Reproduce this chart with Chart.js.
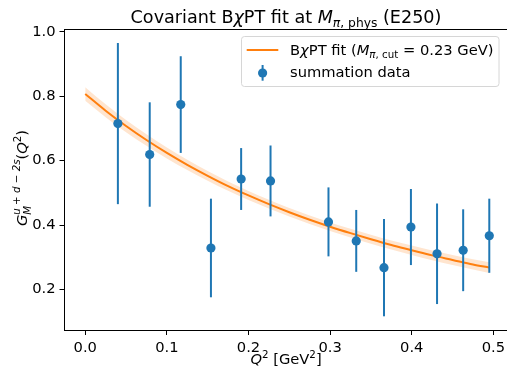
<!DOCTYPE html>
<html><head><meta charset="utf-8">
<script src="https://cdn.jsdelivr.net/npm/chart.js@4/dist/chart.umd.min.js"></script>
<style>html,body{margin:0;padding:0;background:#fff}#wrap{width:507px;height:374px;position:relative}</style>
</head><body><div id="wrap"><canvas id="c" width="507" height="374"></canvas></div>
<script>
// ---- data ----
const q2Data = [0.040, 0.079, 0.117, 0.154, 0.191, 0.227, 0.298, 0.332, 0.366, 0.399, 0.431, 0.463, 0.495];
const gData  = [0.715, 0.619, 0.774, 0.329, 0.543, 0.537, 0.410, 0.351, 0.268, 0.394, 0.311, 0.322, 0.367];
const gErr   = [0.250, 0.162, 0.150, 0.153, 0.096, 0.110, 0.107, 0.096, 0.151, 0.118, 0.156, 0.127, 0.115];
const fitQ2  = [0, 0.025, 0.05, 0.075, 0.1, 0.125, 0.15, 0.175, 0.2, 0.225, 0.25, 0.275, 0.3, 0.325, 0.35, 0.375, 0.4, 0.425, 0.45, 0.475, 0.495];
const fitVal = [0.807, 0.755, 0.7075, 0.664, 0.624, 0.587, 0.553, 0.521, 0.492, 0.465, 0.440, 0.4165, 0.395, 0.375, 0.356, 0.338, 0.322, 0.306, 0.292, 0.278, 0.268];
const fitErr = [0.021, 0.020, 0.019, 0.018, 0.017, 0.016, 0.015, 0.0145, 0.014, 0.0135, 0.013, 0.013, 0.013, 0.0133, 0.0137, 0.014, 0.0145, 0.015, 0.0155, 0.016, 0.0165];
const xTicks = [0.0, 0.1, 0.2, 0.3, 0.4, 0.5];
const yTicks = [0.2, 0.4, 0.6, 0.8, 1.0];

const BLUE = '#1f77b4', ORANGE = '#ff7f0e', BAND = 'rgba(255,127,14,0.2)';
const FONT = '"DejaVu Sans"';
const FS = 14.7, TFS = 17.6;

function layoutRich(ctx, segs, base) {
  let x = 0; const items = []; let holdX = null, holdW = 0;
  for (const s of segs) {
    const size = base * (s.s || 1);
    const font = (s.it ? 'italic ' : '') + size + 'px ' + FONT;
    ctx.font = font;
    const w = ctx.measureText(s.t).width;
    if (s.hold) { items.push({...s, font, x, w}); holdX = x; holdW = w; continue; }
    if (holdX !== null) { items.push({...s, font, x: holdX, w}); x = holdX + Math.max(holdW, w); holdX = null; continue; }
    items.push({...s, font, x, w}); x += w;
  }
  return {items, width: x};
}
function drawRich(ctx, segs, base, x, y, align) {
  const L = layoutRich(ctx, segs, base);
  let x0 = x;
  if (align === 'center') x0 = x - L.width / 2;
  ctx.textBaseline = 'alphabetic'; ctx.textAlign = 'left';
  for (const it of L.items) { ctx.font = it.font; ctx.fillText(it.t, x0 + it.x, y + (it.dy || 0)); }
}

const errorBars = {
  id: 'errorBars',
  afterDatasetsDraw(chart) {
    const {ctx, scales: {x, y}} = chart;
    ctx.save(); ctx.strokeStyle = BLUE; ctx.lineWidth = 2; ctx.lineCap = 'butt';
    q2Data.forEach((q, i) => {
      const px = x.getPixelForValue(q);
      ctx.beginPath();
      ctx.moveTo(px, y.getPixelForValue(gData[i] - gErr[i]));
      ctx.lineTo(px, y.getPixelForValue(gData[i] + gErr[i]));
      ctx.stroke();
    });
    ctx.restore();
  }
};

const decor = {
  id: 'decor',
  afterDraw(chart) {
    const {ctx, chartArea: ca} = chart;
    ctx.save();
    // top spine
    ctx.strokeStyle = '#000'; ctx.lineWidth = 1;
    ctx.beginPath(); ctx.moveTo(ca.left, ca.top + 0.5); ctx.lineTo(ca.right + 3, ca.top + 0.5); ctx.stroke();
    ctx.fillStyle = '#000';
    const cx = 286;
    // title
    drawRich(ctx, [
      {t: 'Covariant B'}, {t: 'χ', it: true}, {t: 'PT fit at '}, {t: 'M', it: true},
      {t: 'π', it: true, s: 0.7, dy: 3.8}, {t: ', phys', s: 0.7, dy: 3.8}, {t: ' (E250)'}
    ], TFS, cx, 23, 'center');
    // x label
    drawRich(ctx, [
      {t: 'Q', it: true}, {t: '2', s: 0.7, dy: -6.3}, {t: ' [GeV'}, {t: '2', s: 0.7, dy: -6.3}, {t: ']'}
    ], FS, cx, 364, 'center');
    // y label (rotated)
    ctx.save();
    ctx.translate(27, 178);
    ctx.rotate(-Math.PI / 2);
    drawRich(ctx, [
      {t: 'G', it: true}, {t: 'M', it: true, s: 0.7, dy: 3.7, hold: true},
      {t: 'u + d − 2s', it: true, s: 0.7, dy: -6.8},
      {t: '('}, {t: 'Q', it: true}, {t: '2', s: 0.7, dy: -6.3}, {t: ')'}
    ], FS, 0, 0, 'center');
    ctx.restore();
    // legend box
    const bx = 241.5, by = 36.5, bw = 257.5, bh = 50, r = 3;
    ctx.beginPath();
    ctx.moveTo(bx + r, by); ctx.lineTo(bx + bw - r, by); ctx.arcTo(bx + bw, by, bx + bw, by + r, r);
    ctx.lineTo(bx + bw, by + bh - r); ctx.arcTo(bx + bw, by + bh, bx + bw - r, by + bh, r);
    ctx.lineTo(bx + r, by + bh); ctx.arcTo(bx, by + bh, bx, by + bh - r, r);
    ctx.lineTo(bx, by + r); ctx.arcTo(bx, by, bx + r, by, r); ctx.closePath();
    ctx.fillStyle = 'rgba(255,255,255,0.8)'; ctx.fill();
    ctx.strokeStyle = '#d6d6d6'; ctx.lineWidth = 1; ctx.stroke();
    // legend row 1
    ctx.strokeStyle = ORANGE; ctx.lineWidth = 2;
    ctx.beginPath(); ctx.moveTo(246.7, 50); ctx.lineTo(278.3, 50); ctx.stroke();
    ctx.fillStyle = '#000';
    drawRich(ctx, [
      {t: 'B'}, {t: 'χ', it: true}, {t: 'PT fit ('}, {t: 'M', it: true},
      {t: 'π', it: true, s: 0.7, dy: 3.2}, {t: ', cut', s: 0.7, dy: 3.2}, {t: ' = 0.23 GeV)'}
    ], FS, 290, 55, 'left');
    // legend row 2
    ctx.strokeStyle = BLUE; ctx.lineWidth = 2;
    ctx.beginPath(); ctx.moveTo(262.6, 65); ctx.lineTo(262.6, 80.7); ctx.stroke();
    ctx.fillStyle = BLUE;
    ctx.beginPath(); ctx.arc(262.6, 73, 4.6, 0, Math.PI * 2); ctx.fill();
    ctx.fillStyle = '#000';
    drawRich(ctx, [{t: 'summation data'}], FS, 290, 76.7, 'left');
    ctx.restore();
  }
};

const tickFont = {family: FONT, size: FS};
new Chart(document.getElementById('c'), {
  type: 'line',
  data: {
    datasets: [
      {label: 'summation data', type: 'scatter', data: q2Data.map((x, i) => ({x, y: gData[i]})),
       backgroundColor: BLUE, borderColor: BLUE, pointRadius: 4.6, pointHoverRadius: 4.6, borderWidth: 0, order: 0},
      {label: 'fit', data: fitQ2.map((x, i) => ({x, y: fitVal[i]})), borderColor: ORANGE, borderWidth: 2,
       pointRadius: 0, cubicInterpolationMode: 'monotone', fill: false, order: 1},
      {label: 'lo', data: fitQ2.map((x, i) => ({x, y: fitVal[i] - fitErr[i]})), borderColor: 'rgba(0,0,0,0)', borderWidth: 0,
       pointRadius: 0, cubicInterpolationMode: 'monotone', fill: false, order: 3},
      {label: 'hi', data: fitQ2.map((x, i) => ({x, y: fitVal[i] + fitErr[i]})), borderColor: 'rgba(0,0,0,0)', borderWidth: 0,
       pointRadius: 0, cubicInterpolationMode: 'monotone', fill: '-1', backgroundColor: BAND, order: 2}
    ]
  },
  options: {
    responsive: false, animation: false, devicePixelRatio: 1,
    layout: {autoPadding: false, padding: {top: 29, right: 0, left: 0, bottom: 0}},
    plugins: {legend: {display: false}, title: {display: false}, tooltip: {enabled: false}},
    scales: {
      x: {
        type: 'linear', min: -0.0254, max: 0.5167,
        afterBuildTicks: s => { s.ticks = xTicks.map(v => ({value: v})); },
        afterFit: s => { s.height = 44; s.paddingLeft = 0; s.paddingRight = 0; },
        ticks: {callback: v => v.toFixed(1), font: tickFont, color: '#000', padding: 4, maxRotation: 0, autoSkip: false},
        grid: {drawOnChartArea: false, drawTicks: true, tickLength: 5, color: '#000', tickColor: '#000', tickWidth: 1},
        border: {display: true, color: '#000', width: 1}
      },
      y: {
        type: 'linear', min: 0.0745, max: 1.0085,
        afterBuildTicks: s => { s.ticks = yTicks.map(v => ({value: v})); },
        afterFit: s => { s.width = 64.5; s.paddingTop = 0; s.paddingBottom = 0; },
        ticks: {callback: v => v.toFixed(1), font: tickFont, color: '#000', padding: 4, autoSkip: false},
        grid: {drawOnChartArea: false, drawTicks: true, tickLength: 5, color: '#000', tickColor: '#000', tickWidth: 1},
        border: {display: true, color: '#000', width: 1}
      }
    }
  },
  plugins: [errorBars, decor]
});
</script></body></html>
